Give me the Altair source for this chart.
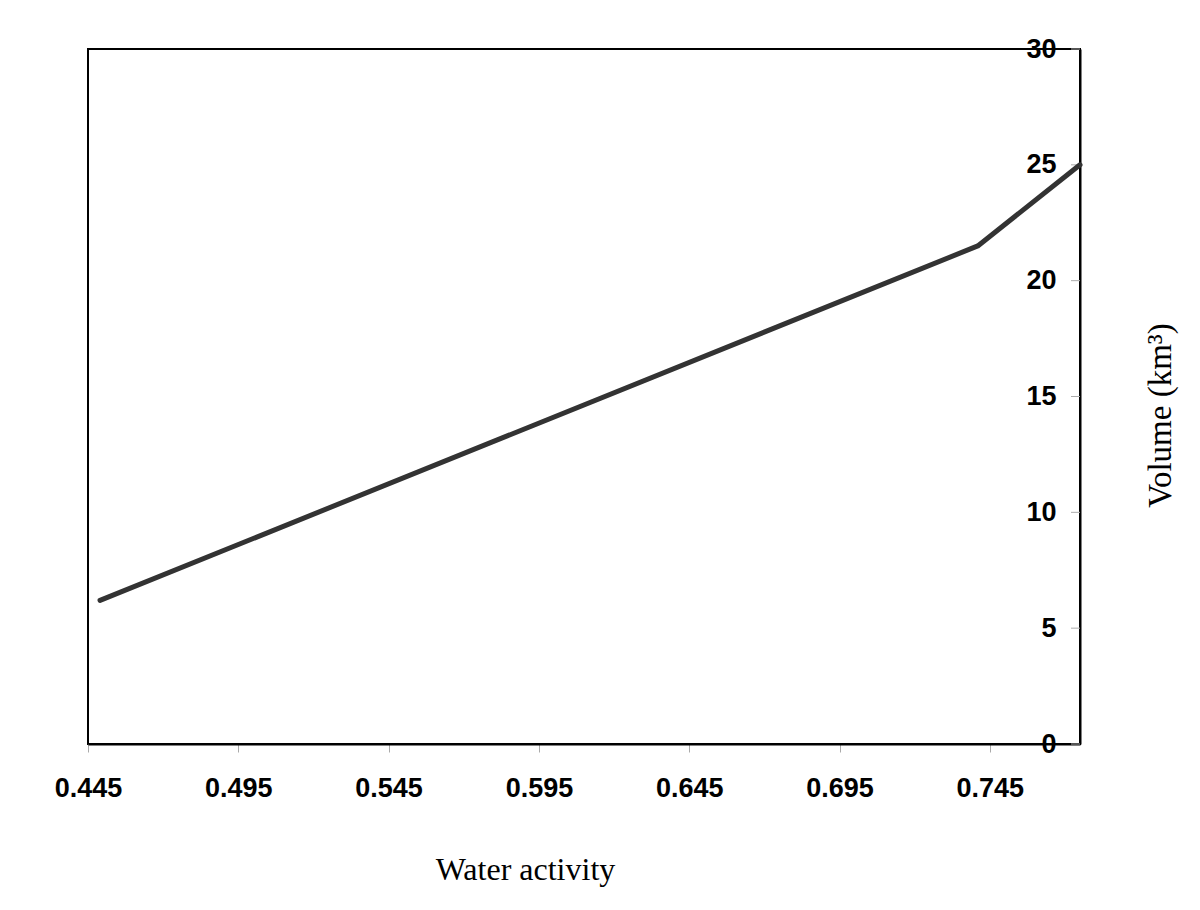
import altair as alt
import pandas as pd

water_activity = [0.449, 0.741, 0.775]
volume = [6.2, 21.5, 25.0]
x_ticks = [0.445, 0.495, 0.545, 0.595, 0.645, 0.695, 0.745]
y_ticks = [0, 5, 10, 15, 20, 25, 30]

W, H = 992, 695

df = pd.DataFrame({"aw": water_activity, "vol": volume})
ticks_df = pd.DataFrame({"t": y_ticks})

xscale = alt.Scale(domain=[0.445, 0.775], nice=False, zero=False)
yscale = alt.Scale(domain=[0, 30], nice=False)

line = alt.Chart(df).mark_line(color="#333333", strokeWidth=5, strokeCap="round", strokeJoin="round", clip=False).encode(
    x=alt.X("aw:Q", scale=xscale,
            axis=alt.Axis(values=x_ticks, format=".3f", title="Water activity",
                          labelFont="Liberation Sans", labelFontWeight="bold", labelFontSize=27,
                          labelColor="black", labelPadding=23, tickColor="#aaaaaa", tickSize=8,
                          domainColor="black", domainWidth=2, grid=False,
                          titleFont="Liberation Serif", titleFontSize=32, titleFontWeight="normal",
                          titleColor="black", titleX=437, titleY=135, titleBaseline="alphabetic",
                          titleAlign="center", labelFlush=False)),
    y=alt.Y("vol:Q", scale=yscale,
            axis=alt.Axis(orient="right", values=y_ticks, title="Volume (km³)",
                          labelFont="Liberation Sans", labelFontWeight="bold", labelFontSize=27,
                          labelColor="black", labelAlign="right", labelBaseline="middle",
                          labelPadding=-24, ticks=False, domainColor="black", domainWidth=2,
                          grid=False, labelFlush=False,
                          titleFont="Liberation Serif", titleFontSize=33, titleFontWeight="normal",
                          titleColor="black", titleAngle=270, titleX=80, titleY=366,
                          titleAlign="center", titleBaseline="middle")),
)

yticks = alt.Chart(ticks_df).mark_rule(color="#aaaaaa", strokeWidth=1).encode(
    y=alt.Y("t:Q", scale=yscale),
    x=alt.value(W - 9),
    x2=alt.value(W),
)

chart = alt.layer(yticks, line).properties(
    width=W, height=H,
    background="white",
    autosize=alt.AutoSizeParams(type="none"),
    padding={"left": 80, "top": 41, "right": 110, "bottom": 150},
).configure_view(stroke="black", strokeWidth=2)

chart.save("out.html", embed_options={"renderer": "svg", "actions": False})
